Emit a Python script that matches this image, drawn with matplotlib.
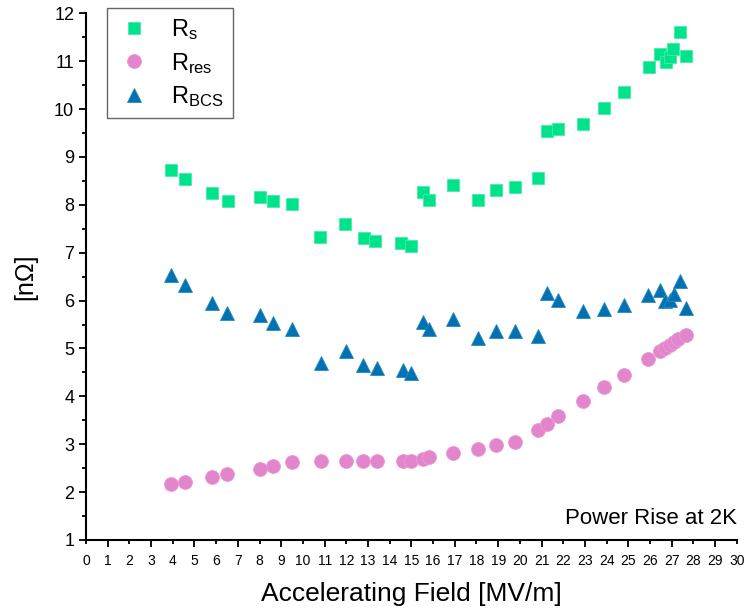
import matplotlib
matplotlib.use("Agg")
import matplotlib.pyplot as plt
from matplotlib.ticker import MultipleLocator

plt.rcParams["font.family"] = ["Liberation Sans", "DejaVu Sans"]
plt.rcParams["mathtext.fontset"] = "custom"
plt.rcParams["mathtext.rm"] = "Liberation Sans"
plt.rcParams["mathtext.it"] = "Liberation Sans"

# ── data ──
field_rs = [3.9, 4.56, 5.8, 6.55, 8.0, 8.6, 9.5, 10.8, 11.95, 12.8, 13.3, 14.5, 15.0,
            15.55, 15.8, 16.9, 18.06, 18.9, 19.77, 20.83, 21.24, 21.75, 22.9, 23.87,
            24.8, 25.94, 26.45, 26.73, 26.9, 27.05, 27.37, 27.65]
rs = [8.72, 8.53, 8.24, 8.09, 8.17, 8.07, 8.02, 7.33, 7.59, 7.30, 7.25, 7.20, 7.13,
      8.26, 8.11, 8.41, 8.11, 8.30, 8.38, 8.55, 9.54, 9.58, 9.68, 10.02,
      10.35, 10.87, 11.15, 10.98, 11.08, 11.25, 11.60, 11.10]

field_res = [3.92, 4.58, 5.8, 6.5, 8.0, 8.63, 9.5, 10.83, 11.97, 12.77, 13.4, 14.6, 15.0,
             15.55, 15.8, 16.9, 18.05, 18.9, 19.78, 20.83, 21.23, 21.76, 22.9, 23.9,
             24.82, 25.93, 26.45, 26.68, 26.9, 27.1, 27.3, 27.65]
rres = [2.17, 2.22, 2.31, 2.37, 2.49, 2.55, 2.62, 2.65, 2.65, 2.65, 2.65, 2.65, 2.65,
        2.69, 2.73, 2.82, 2.91, 2.99, 3.05, 3.30, 3.42, 3.58, 3.91, 4.19,
        4.45, 4.78, 4.94, 5.01, 5.07, 5.13, 5.20, 5.29]

field_bcs = [3.9, 4.58, 5.8, 6.5, 8.0, 8.63, 9.5, 10.83, 11.97, 12.77, 13.4, 14.6, 15.0,
             15.55, 15.8, 16.9, 18.05, 18.9, 19.78, 20.83, 21.23, 21.76, 22.9, 23.9,
             24.82, 25.93, 26.45, 26.7, 26.9, 27.1, 27.37, 27.65]
rbcs = [6.54, 6.33, 5.94, 5.74, 5.69, 5.53, 5.41, 4.70, 4.95, 4.66, 4.59, 4.56, 4.49,
        5.55, 5.41, 5.62, 5.21, 5.36, 5.37, 5.27, 6.15, 6.02, 5.78, 5.83,
        5.90, 6.11, 6.23, 5.99, 6.02, 6.13, 6.40, 5.85]

fig = plt.figure(figsize=(7.48, 6.16), dpi=100)
ax = fig.add_axes([0.115, 0.1234, 0.870, 0.855])

ax.plot(field_rs, rs, "s", color="#00E38A", markersize=8, markeredgecolor="#3FF0A8",
        markeredgewidth=0.6, label=r"R$_{\rm s}$", clip_on=False)
ax.plot(field_res, rres, "o", color="#E285CC", markersize=10, markeredgecolor="#EA9BD6",
        markeredgewidth=0.6, label=r"R$_{\rm res}$", clip_on=False)
ax.plot(field_bcs, rbcs, "^", color="#0072B2", markersize=10.5, markeredgecolor="#2A8AC0",
        markeredgewidth=0.6, label=r"R$_{\rm BCS}$", clip_on=False)

ax.set_xlim(0, 30)
ax.set_ylim(1, 12)
ax.xaxis.set_major_locator(MultipleLocator(1))
ax.yaxis.set_major_locator(MultipleLocator(1))
ax.yaxis.set_minor_locator(MultipleLocator(0.5))

for s in ["top", "right"]:
    ax.spines[s].set_visible(False)
for s in ["left", "bottom"]:
    ax.spines[s].set_linewidth(1.5)

ax.tick_params(axis="both", which="major", direction="out", length=5, width=1.3)
ax.tick_params(axis="y", which="minor", direction="out", length=3, width=1.3)
ax.tick_params(axis="y", labelsize=13)
ax.tick_params(axis="x", labelsize=10, pad=5)

# longer ticks at even fields
for i, t in enumerate(ax.xaxis.get_major_ticks()):
    if i % 2 == 1:
        t.tick1line.set_markersize(3)

ax.set_xlabel("Accelerating Field [MV/m]", fontsize=19, labelpad=10)
ax.set_ylabel("[n\u03a9]", fontsize=18, labelpad=12)

ax.text(1.0, 0.02, "Power Rise at 2K", transform=ax.transAxes,
        ha="right", va="bottom", fontsize=16)

leg = ax.legend(loc="upper left", bbox_to_anchor=(0.032, 1.01), borderaxespad=0,
                fontsize=17, frameon=True, fancybox=False, edgecolor="#404040",
                handletextpad=0.8, labelspacing=0.35, borderpad=0.4,
                handlelength=1.5)
leg.get_frame().set_linewidth(1.0)

fig.savefig("out.png", dpi=100)
